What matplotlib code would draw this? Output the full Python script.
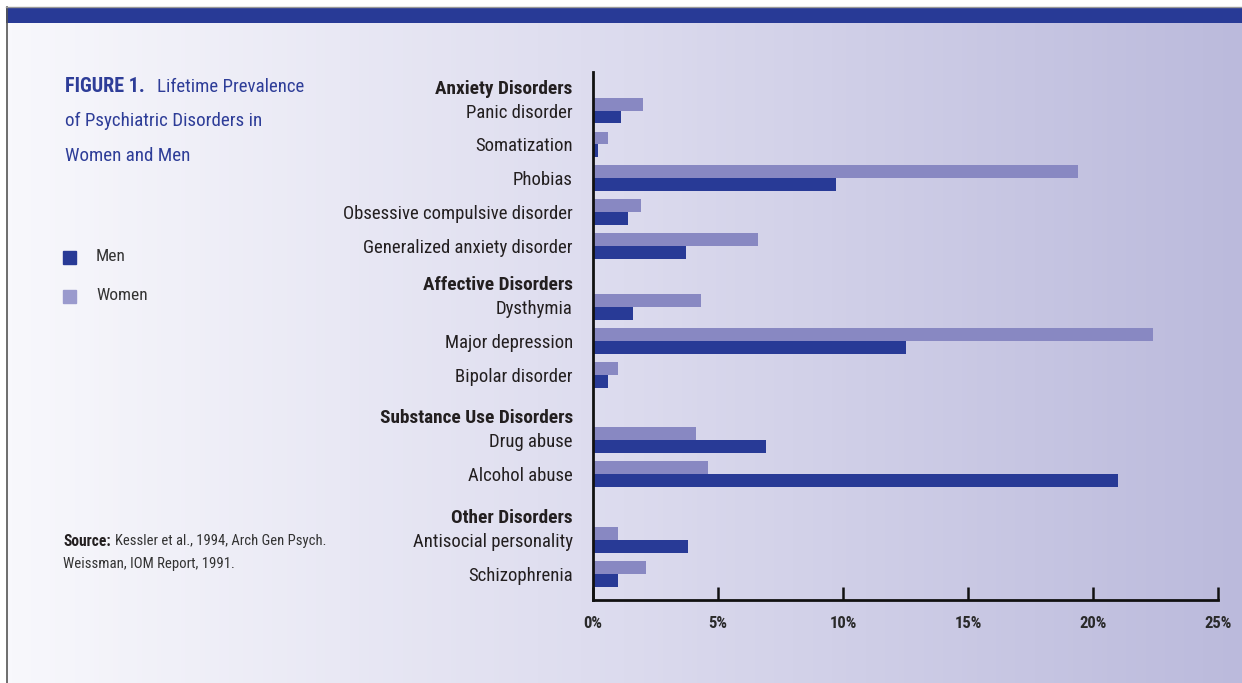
import numpy as np
from matplotlib import pyplot as plt
from matplotlib.colors import LinearSegmentedColormap

# data (lifetime prevalence, %)
groups = ['Anxiety Disorders', 'Affective Disorders', 'Substance Use Disorders', 'Other Disorders']
disorders = [
    ['Panic disorder', 'Somatization', 'Phobias', 'Obsessive compulsive disorder', 'Generalized anxiety disorder'],
    ['Dysthymia', 'Major depression', 'Bipolar disorder'],
    ['Drug abuse', 'Alcohol abuse'],
    ['Antisocial personality', 'Schizophrenia'],
]
women = [2.0, 0.6, 19.4, 1.9, 6.6, 4.3, 22.4, 1.0, 4.1, 4.6, 1.0, 2.1]
men = [1.1, 0.2, 9.7, 1.4, 3.7, 1.6, 12.5, 0.6, 6.9, 21.0, 3.8, 1.0]
xticks = [0, 5, 10, 15, 20, 25]

men_color = '#283a96'
women_color = '#8888c2'
text_color = '#231f20'
title_color = '#2e3d98'

plt.rcParams['font.family'] = ['Roboto Condensed', 'Liberation Sans Narrow', 'Roboto', 'DejaVu Sans']

W, H = 1242, 683
fig = plt.figure(figsize=(W/100, H/100), dpi=100)
fig.patch.set_facecolor('white')

def fx(x):
    return x/W

def fy(y):
    return 1 - y/H

# background gradient panel
bg = fig.add_axes([fx(7), 0, 1 - fx(7), fy(23)])
grad = np.linspace(0, 1, 256).reshape(1, -1)
cmap = LinearSegmentedColormap.from_list('bg', ['#f8f8fc', '#dcdbee', '#bbbadc'])
bg.imshow(grad, aspect='auto', cmap=cmap, extent=[0, 1, 0, 1])
bg.set_axis_off()

# top band and left border
band = fig.add_axes([fx(6), fy(23), 1 - fx(6), (23-7)/H])
band.set_facecolor(men_color)
band.set_xticks([])
band.set_yticks([])
for s in band.spines.values():
    s.set_visible(False)
fig.add_artist(plt.Line2D([fx(6.5), fx(6.5)], [0, fy(7)], color='#555555', lw=1.2))
fig.add_artist(plt.Line2D([fx(6), 1], [fy(6.5), fy(6.5)], color='#999999', lw=1.0))

# positions of rows (headers + items)
gaps = [0, 1.1, 1.23, 1.25]
ypos = []
hpos = []
labels = []
pos = 0
for g, (head, items) in enumerate(zip(groups, disorders)):
    pos += gaps[g]
    hpos.append(pos)
    labels.append(head)
    pos += 0.7
    for i, item in enumerate(items):
        if i > 0:
            pos += 1
        ypos.append(pos)
        labels.append(item)
ypos = np.array(ypos)

ax = fig.add_axes([fx(593), fy(600), (1218-593)/W, (600-72)/H])
ax.patch.set_alpha(0)
bar_h = 0.38
ax.barh(ypos - bar_h/2, women, bar_h, color=women_color, label='Women')
ax.barh(ypos + bar_h/2, men, bar_h, color=men_color, label='Men')

ax.set_xlim(0, 25)
ax.set_ylim(ypos[-1] + 0.77, -0.44)
ax.spines['top'].set_visible(False)
ax.spines['right'].set_visible(False)
for side in ['left', 'bottom']:
    ax.spines[side].set_linewidth(2)
    ax.spines[side].set_color('#111111')

ax.set_xticks(xticks)
ax.set_xticklabels([str(t) + '%' for t in xticks], fontweight='bold', fontsize=12, color='#2a2a2a')
ax.tick_params(axis='x', direction='in', length=9.5, width=1.8, pad=11.5, color='#111111')

alltick = sorted(list(ypos) + hpos)
ax.set_yticks(alltick)
ax.set_yticklabels(labels, fontsize=13.5, color=text_color)
ax.tick_params(axis='y', length=0, pad=14.5)
for t in ax.get_yticklabels():
    if t.get_text() in groups:
        t.set_fontweight('bold')
        t.set_fontsize(13.9)

# title block
t1 = fig.text(fx(65), fy(87), 'FIGURE 1.', fontsize=14.5, fontweight='bold', color=title_color, va='center')
ax.annotate('Lifetime Prevalence', xy=(1, 0.5), xycoords=t1, xytext=(9, 0), textcoords='offset points',
            fontsize=13.6, color=title_color, va='center', ha='left', annotation_clip=False)
fig.text(fx(65), fy(121), 'of Psychiatric Disorders in', fontsize=13.7, color=title_color, va='center')
fig.text(fx(65), fy(156), 'Women and Men', fontsize=13.7, color=title_color, va='center')

# legend
for yy, name, c in [(257, 'Men', men_color), (296, 'Women', '#9a9acd')]:
    fig.patches.append(plt.Rectangle((fx(63), fy(yy + 6.5)), 13/W, 13/H, color=c, transform=fig.transFigure))
    fig.text(fx(96), fy(yy), name, fontsize=12.5, color='#333333', va='center')

# source
s1 = fig.text(fx(63), fy(541), 'Source:', fontsize=11.2, fontweight='bold', color=text_color, va='center')
ax.annotate('Kessler et al., 1994, Arch Gen Psych.', xy=(1, 0.5), xycoords=s1, xytext=(3, 0),
            textcoords='offset points', fontsize=10.5, color='#333333', va='center', ha='left',
            annotation_clip=False)
fig.text(fx(63), fy(564), 'Weissman, IOM Report, 1991.', fontsize=10.6, color='#333333', va='center')

fig.savefig('out.png', dpi=100)
